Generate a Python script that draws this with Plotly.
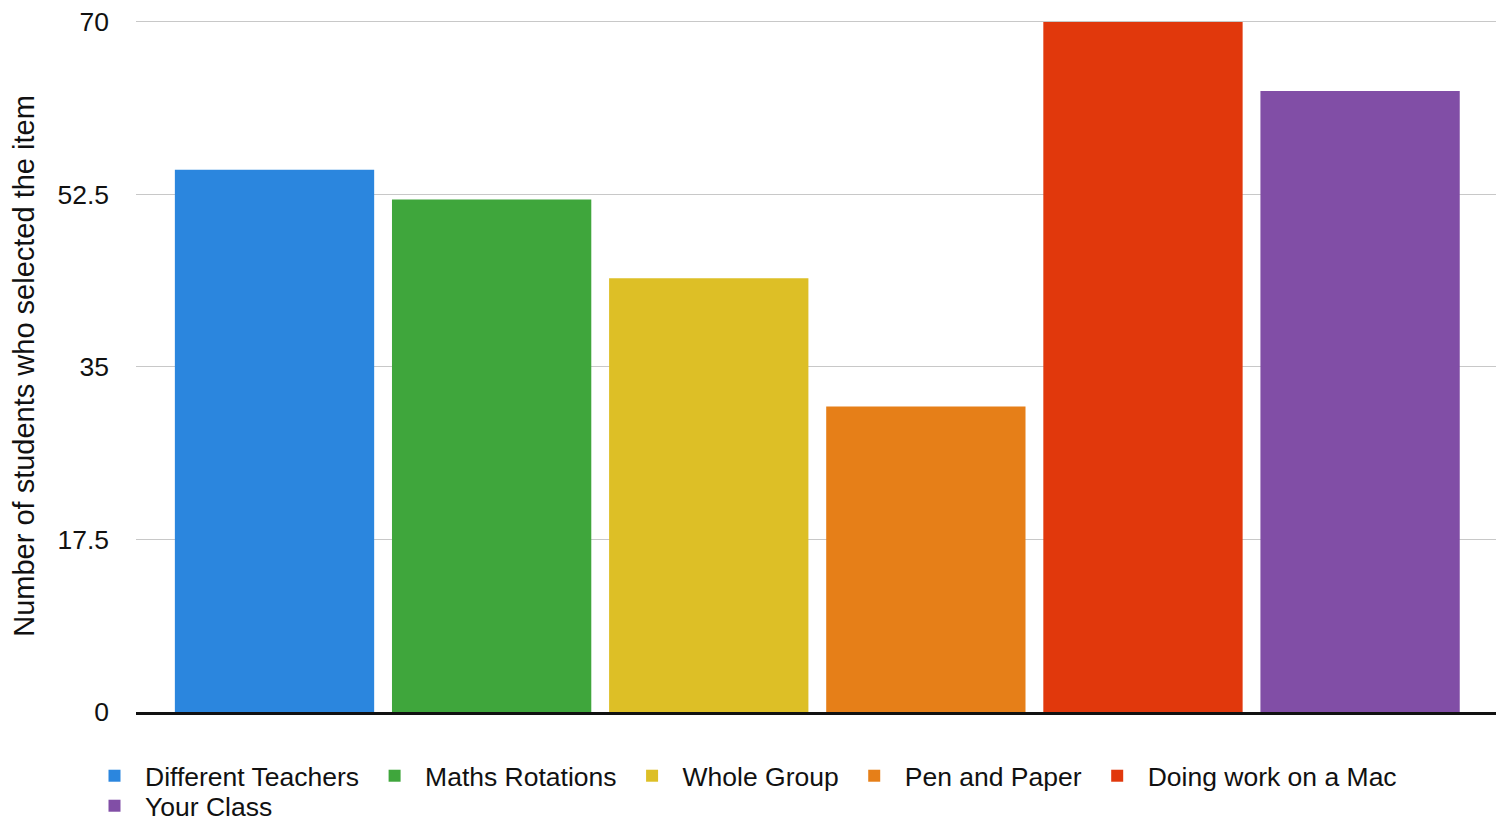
import plotly.graph_objects as go

categories = ["Different Teachers", "Maths Rotations", "Whole Group",
              "Pen and Paper", "Doing work on a Mac", "Your Class"]
values = [55, 52, 44, 31, 70, 63]
colors = ["#2B86DE", "#3FA63C", "#DDBF26", "#E67F18", "#E1380C", "#814EA6"]
legend_rows = ["legend", "legend", "legend", "legend", "legend", "legend2"]
y_ticks = [0, 17.5, 35, 52.5, 70]
y_tick_labels = ["0", "17.5", "35", "52.5", "70"]

FONT = "Liberation Sans, Arial, Helvetica, sans-serif"
W, H = 1502, 813  # page body has an 8px margin

fig = go.Figure()
for cat, val, col, lg in zip(categories, values, colors, legend_rows):
    fig.add_trace(go.Bar(
        x=[cat], y=[val], name=cat,
        marker=dict(color=col, line=dict(width=0)),
        width=0.918,
        legend=lg,
    ))

legend_common = dict(
    orientation="h",
    xref="container", yref="container",
    xanchor="left", yanchor="top",
    font=dict(family=FONT, size=26.5, color="#111111"),
    traceorder="normal",
    itemwidth=51,
    bgcolor="rgba(0,0,0,0)",
)

fig.update_layout(
    width=W, height=H,
    barmode="overlay",
    paper_bgcolor="white", plot_bgcolor="white",
    margin=dict(l=128, r=14, t=12, b=109, autoexpand=False),
    font=dict(family=FONT, size=26, color="#111111"),
    showlegend=True,
    legend=dict(legend_common, x=76 / W, y=1 - 744 / H),
    legend2=dict(legend_common, x=76 / W, y=1 - 774 / H),
    xaxis=dict(
        type="category",
        range=[-0.638, 5.626],
        showticklabels=False,
        showgrid=False,
        zeroline=False,
        ticks="",
        automargin=False,
        showline=True, linecolor="#111111", linewidth=3,
    ),
    yaxis=dict(
        range=[0, 70.2],
        tickvals=y_ticks, ticktext=y_tick_labels,
        showgrid=True, gridcolor="#C8C8C8", gridwidth=1,
        zeroline=False,
        ticks="", ticklabelstandoff=26,
        ticklabeloverflow="allow",
        automargin=False,
        tickfont=dict(family=FONT, size=26.5, color="#111111"),
        title=dict(text="Number of students who selected the item",
                   font=dict(family=FONT, size=29, color="#111111"),
                   standoff=21),
    ),
)

fig.write_html("out.html")
